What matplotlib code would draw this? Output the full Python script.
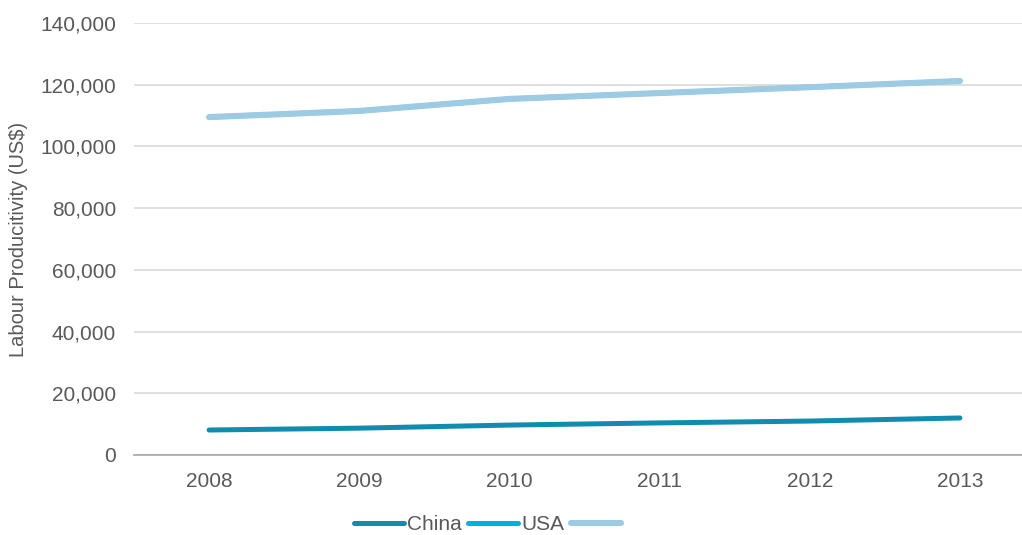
import matplotlib.pyplot as plt
from matplotlib.ticker import FuncFormatter

plt.rcParams['font.family'] = ['Liberation Sans', 'DejaVu Sans']

years = ['2008', '2009', '2010', '2011', '2012', '2013']
china = [8100, 8700, 9700, 10400, 11000, 12000]
usa = [109500, 111500, 115400, 117300, 119200, 121200]
usa_2 = [109500, 111500, 115400, 117300, 119200, 121200]

text_col = '#595959'

fig = plt.figure(figsize=(10.22, 5.35), dpi=100)
ax = fig.add_axes([134 / 1022, 80 / 535, 901 / 1022, 432 / 535])

x = list(range(len(years)))
l1, = ax.plot(x, china, color='#0f8cae', lw=3.6, solid_capstyle='round')
l2, = ax.plot(x, usa, color='#00b0e0', lw=3.6, solid_capstyle='round')
l3, = ax.plot(x, usa_2, color='#9dcbe3', lw=4.4, solid_capstyle='round')

ax.set_xlim(-0.5, 5.5)
ax.set_ylim(0, 140000)
ax.set_yticks(range(0, 140001, 20000))
ax.yaxis.set_major_formatter(FuncFormatter(lambda v, p: f'{int(v):,}'))
ax.set_xticks(x)
ax.set_xticklabels(years)

ax.grid(axis='y', color='#d9d9d9', lw=1.2)
ax.set_axisbelow(True)
for s in ['top', 'right', 'left']:
    ax.spines[s].set_visible(False)
ax.spines['bottom'].set_color('#a6a6a6')
ax.spines['bottom'].set_linewidth(1.2)
ax.tick_params(axis='both', length=0, labelsize=15, labelcolor=text_col)
ax.tick_params(axis='y', pad=13)
ax.tick_params(axis='x', pad=12)

ax.set_ylabel('Labour Producitivity (US$)', fontsize=14.5, color=text_col)
ax.yaxis.set_label_coords(-0.118, 0.5)

fig.legend([l1, l2, l3], ['China', 'USA', ''], loc='center',
           bbox_to_anchor=(489 / 1022, 1 - 525 / 535), ncol=3, frameon=False,
           fontsize=15, labelcolor=text_col, handlelength=2.4,
           handletextpad=0.15, columnspacing=0.3)

fig.savefig('out.png', dpi=100)
